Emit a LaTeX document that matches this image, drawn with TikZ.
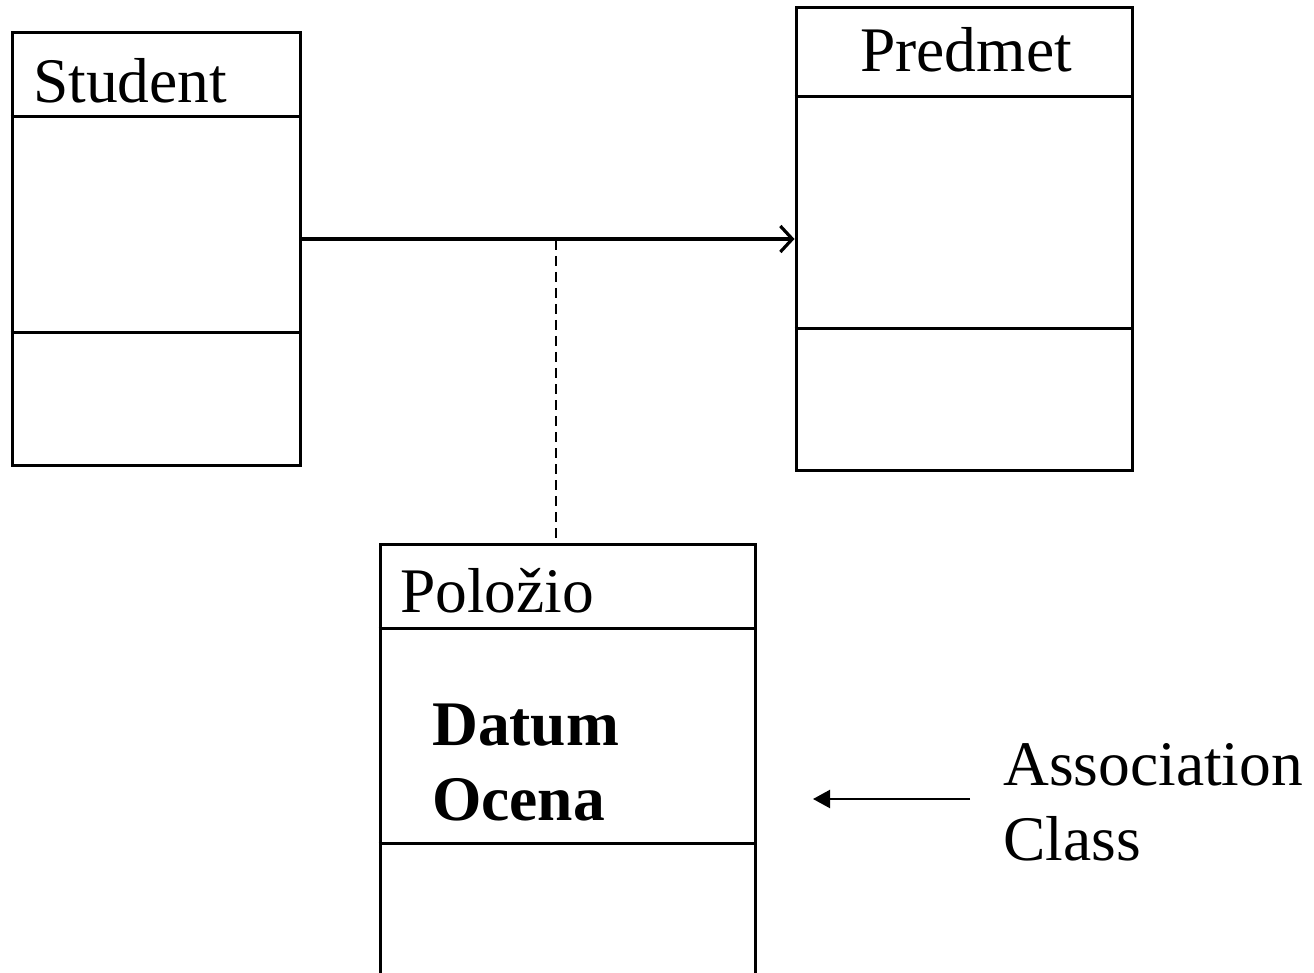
\documentclass[tikz,border=0pt]{standalone}
\usepackage{fontspec}
\setmainfont{Liberation Serif}
\usetikzlibrary{arrows.meta}
\begin{document}
\begin{tikzpicture}[x=1pt,y=-1pt,
  classbox/.style={draw,line width=3pt,rectangle,inner sep=0pt,minimum width=#1},
  lbl/.style={font=\fontsize{63.5}{72}\selectfont,anchor=base west,inner sep=0pt},
  attr/.style={font=\fontsize{63.5}{72}\selectfont\bfseries,anchor=base west,inner sep=0pt},
  divider/.style={line width=3pt}]
\useasboundingbox (0,0) rectangle (1314,973);
\clip (0,0) rectangle (1314,973);

% Student class
\node[classbox=288pt,minimum height=432pt] (student) at (156,249) {};
\draw[divider] (student.west |- 0,117) -- (student.east |- 0,117);
\draw[divider] (student.west |- 0,333) -- (student.east |- 0,333);
\node[lbl] (studentname) at (33,103) {Student};

% Predmet class
\node[classbox=336pt,minimum height=462pt] (predmet) at (964,239) {};
\draw[divider] (predmet.west |- 0,97) -- (predmet.east |- 0,97);
\draw[divider] (predmet.west |- 0,329) -- (predmet.east |- 0,329);
\node[lbl,anchor=base] (predmetname) at (966,72) {Predmet};

% Položio association class (runs past the lower edge)
\node[classbox=375pt,minimum height=456pt] (polozio) at (567.5,772) {};
\draw[divider] (polozio.west |- 0,628) -- (polozio.east |- 0,628);
\draw[divider] (polozio.west |- 0,843) -- (polozio.east |- 0,843);
\node[lbl] (polozioname) at (400,612) {Položio};
\node[attr] (datum) at (432,745) {Datum};
\node[attr] (ocena) at (432,820) {Ocena};

% association and its link to the association class
\draw[line width=3.2pt,-{Straight Barb[length=12pt,width=26pt,line width=3.2pt]}]
  (student.east |- predmet.west) -- (predmet.west);
\coordinate (mid) at (556,240);
\draw[line width=2.4pt,dash pattern=on 10pt off 6pt] (mid) -- (polozio.north -| mid);

% annotation
\node[lbl] (assoc) at (1003,785) {Association};
\node[lbl] (cls) at (1003,860) {Class};
\coordinate (notestart) at (970,799);
\coordinate (noteend) at (813,799);
\draw[line width=2.2pt,-{Triangle[length=17pt,width=18pt]}] (notestart) -- (noteend);
\end{tikzpicture}
\end{document}
